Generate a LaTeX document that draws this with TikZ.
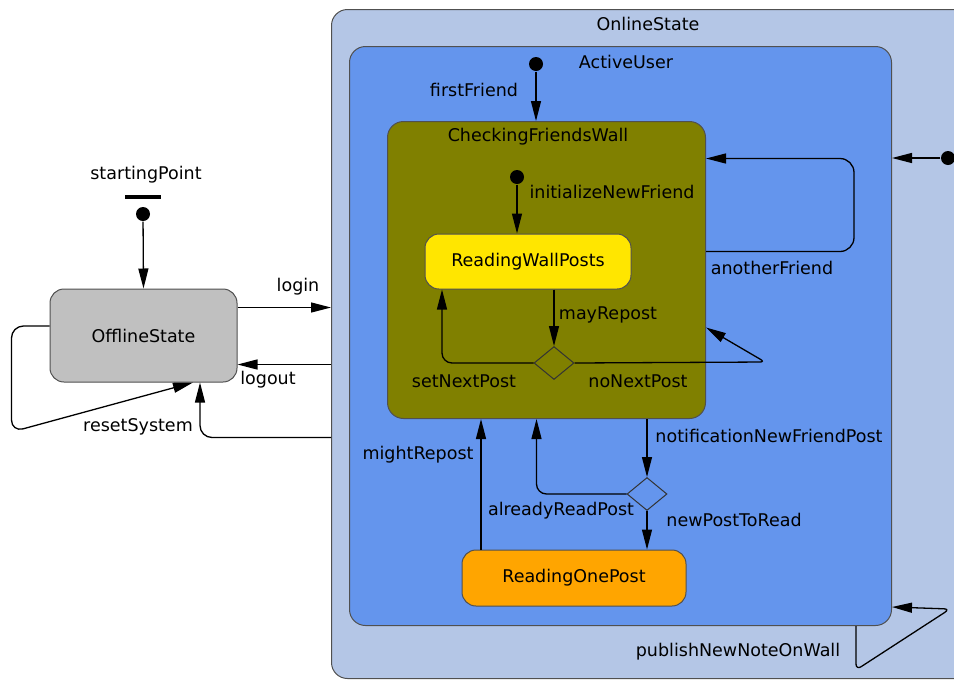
\documentclass[tikz,border=0pt]{standalone}
\usepackage{fontspec}
\setmainfont{DejaVu Sans}
\usetikzlibrary{arrows.meta,shapes.geometric}
\definecolor{onlinebg}{RGB}{180,198,230}
\definecolor{activebg}{RGB}{100,149,237}
\definecolor{checkbg}{RGB}{128,128,0}
\definecolor{wallbg}{RGB}{255,230,0}
\definecolor{postbg}{RGB}{255,165,0}
\definecolor{offbg}{RGB}{192,192,192}
\definecolor{edgegray}{RGB}{80,80,80}

\begin{document}
\begin{tikzpicture}[x=1pt,y=-1pt,->,>={Triangle[length=20pt,width=10pt]},line width=1.3pt,
  font=\fontsize{17.5}{21}\selectfont,
  region/.style={draw=edgegray,line width=1pt,rounded corners=16pt,anchor=north west,inner sep=0pt},
  simple state/.style={draw=edgegray,line width=1pt,rounded corners=14pt,inner sep=0pt},
  init dot/.style={circle,fill=black,inner sep=0pt,minimum size=14pt},
  choice/.style={diamond,draw=black!80,line width=1pt,inner sep=0pt,minimum width=40pt,minimum height=33pt},
  tag/.style={inner sep=0pt}]
  \useasboundingbox (0,0) rectangle (954,681);

  \node[region,fill=onlinebg,minimum width=640pt,minimum height=669pt] (online) at (331,9) {};
  \node[region,fill=activebg,minimum width=542pt,minimum height=579pt] (active) at (349,46) {};
  \node[region,fill=checkbg,minimum width=318pt,minimum height=297pt] (checking) at (387,121) {};

  \node[simple state,fill=offbg,minimum width=187pt,minimum height=93pt] (offline) at (143.5,335.5) {OfflineState};
  \node[simple state,fill=wallbg,minimum width=206pt,minimum height=55pt] (wall) at (528,261.5) {ReadingWallPosts};
  \node[simple state,fill=postbg,minimum width=224pt,minimum height=56pt] (onepost) at (574,578) {ReadingOnePost};

  \node[tag] (onlinetag) at (648,24) {OnlineState};
  \node[tag] (activetag) at (626,62) {ActiveUser};
  \node[tag] (checkingtag) at (538,137) {CheckingFriendsWall};
  \node[tag] (starttag) at (146,175) {startingPoint};

  \node[init dot] (startdot) at (143,214) {};
  \node[fill=black,inner sep=0pt,minimum width=36pt,minimum height=4pt] (startbar) at (143,197) {};
  \node[init dot] (firstdot) at (536,64) {};
  \node[init dot] (initdot) at (517,177) {};
  \node[init dot] (entrydot) at (948,158) {};
  \node[choice,fill=checkbg] (choice1) at (554,363) {};
  \node[choice,fill=activebg] (choice2) at (647,494) {};
  \coordinate (nnpturn) at (765,362);
  \coordinate (pubturn) at (950,609);

  \path
    (startdot) edge (offline.north)
    ([yshift=-19pt]offline.north east) edge ([yshift=-19pt]offline.north east -| online.west)
    ([yshift=18pt]offline.south east -| online.west) edge ([yshift=18pt]offline.south east)
    (firstdot) edge (firstdot |- checking.north)
    (initdot) edge (initdot |- wall.north)
    ([xshift=26pt]wall.south) edge (choice1.north)
    (entrydot) edge (entrydot -| active.east)
    (choice2.north |- checking.south) edge (choice2.north)
    (choice2.south) edge (choice2.south |- onepost.north)
    ([xshift=-93pt]onepost.north) edge ([xshift=-93pt]onepost.north |- checking.south);

  \draw[rounded corners=12pt] ([yshift=9.5pt]offline.west) -- ++(-38,0) -- ++(0,106) -- ([xshift=49.5pt]offline.south);
  \draw[rounded corners=12pt] ([yshift=-55pt]offline.south -| online.west) -| ([xshift=56.5pt]offline.south);
  \draw[rounded corners=10pt] (choice1.west) -| ([xshift=-86pt]wall.south);
  \draw[rounded corners=5pt] (choice1.east) -- (nnpturn) -- ([yshift=-57.5pt]checking.east);
  \draw[rounded corners=14pt] ([yshift=18.5pt]checking.east) -- ++(148,0) -- ++(0,-93) -- ([yshift=111.5pt]checking.east);
  \draw[rounded corners=10pt] (choice2.west) -| ([xshift=-10pt]checking.south);
  \draw[rounded corners=6pt] ([xshift=-36pt]active.south east) -- ++(0,44) -- (pubturn) -- ([yshift=19pt]active.south east);

  \node[tag] (logintag) at (298,287) {login};
  \node[tag] (logouttag) at (268,380) {logout};
  \node[tag] (resettag) at (138,427) {resetSystem};
  \node[tag] (firsttag) at (474,90) {firstFriend};
  \node[tag] (inittag) at (612,192) {initializeNewFriend};
  \node[tag] (maytag) at (608,315) {mayRepost};
  \node[tag] (settag) at (464,381) {setNextPost};
  \node[tag] (nonexttag) at (638,381) {noNextPost};
  \node[tag] (anothertag) at (772,268) {anotherFriend};
  \node[tag] (notiftag) at (769,436) {notificationNewFriendPost};
  \node[tag] (mighttag) at (418,455) {mightRepost};
  \node[tag] (alreadytag) at (561,511) {alreadyReadPost};
  \node[tag] (newposttag) at (734,520) {newPostToRead};
  \node[tag] (publishtag) at (738,652) {publishNewNoteOnWall};
\end{tikzpicture}
\end{document}
